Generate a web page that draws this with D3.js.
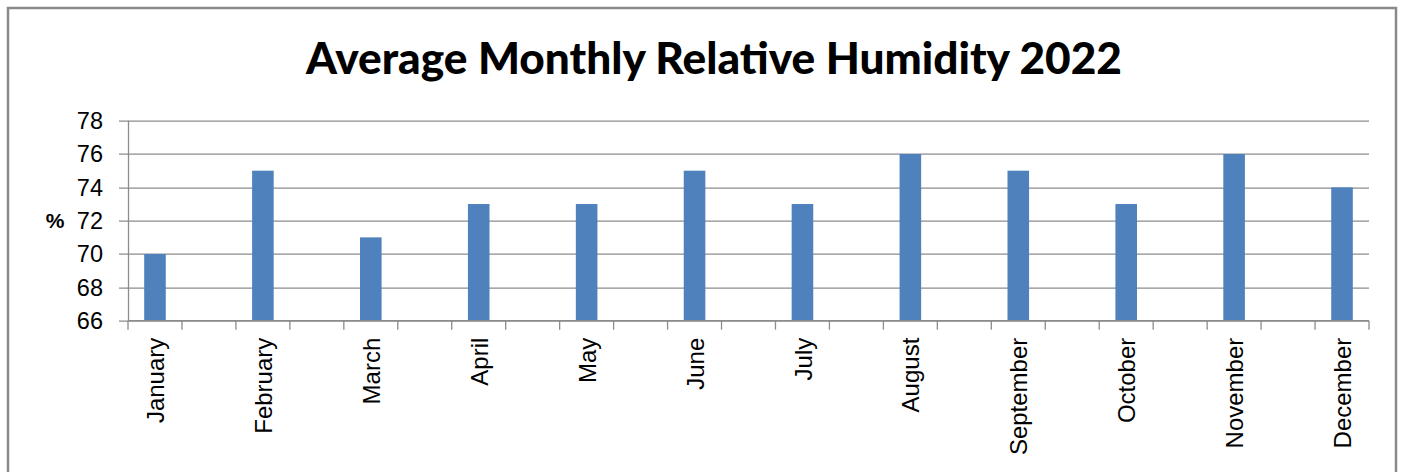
<!DOCTYPE html>
<html>
<head>
<meta charset="utf-8">
<script src="https://cdn.jsdelivr.net/npm/d3@7"></script>
<style>
  html, body { margin: 0; padding: 0; background: #fff; }
  svg { display: block; }
</style>
</head>
<body>
<div id="wrapper"></div>
<script>
const title = "Average Monthly Relative Humidity 2022";
const months = ["January", "February", "March", "April", "May", "June",
  "July", "August", "September", "October", "November", "December"];
const humidity = [70, 75, 71, 73, 73, 75, 73, 76, 75, 73, 76, 74];
const yTicks = [66, 68, 70, 72, 74, 76, 78];
const yLabel = "%";

function drawBars() {
  const dimensions = {
    width: 1401,
    height: 472,
    margin: { top: 120.7, right: 32, bottom: 151.3, left: 128 },
  };
  dimensions.boundedWidth = dimensions.width - dimensions.margin.left - dimensions.margin.right;
  dimensions.boundedHeight = dimensions.height - dimensions.margin.top - dimensions.margin.bottom;

  const wrapper = d3.select("#wrapper")
    .append("svg")
    .attr("width", dimensions.width)
    .attr("height", dimensions.height);

  // chart frame (bottom edge runs off the picture)
  wrapper.append("rect")
    .attr("x", 8)
    .attr("y", 8)
    .attr("width", 1388)
    .attr("height", 500)
    .attr("fill", "#fff")
    .attr("stroke", "#8a8a8a")
    .attr("stroke-width", 2.5);

  // Calibri isn't around: taller Lato squeezed to the original width
  wrapper.append("text")
    .attr("x", 714)
    .attr("y", 74)
    .attr("text-anchor", "middle")
    .attr("textLength", 816)
    .attr("lengthAdjust", "spacingAndGlyphs")
    .style("font-family", "Lato, 'Open Sans', sans-serif")
    .style("font-weight", "900")
    .style("font-size", "43px")
    .attr("fill", "#000")
    .text(title);

  const bounds = wrapper.append("g")
    .attr("transform", `translate(${dimensions.margin.left},${dimensions.margin.top})`);

  // Excel leaves an empty category between every month
  const slots = months.flatMap((m, i) => i < months.length - 1 ? [m, "gap" + i] : [m]);

  const xScale = d3.scaleBand()
    .domain(slots)
    .range([0, dimensions.boundedWidth]);

  const yScale = d3.scaleLinear()
    .domain([66, 78])
    .range([dimensions.boundedHeight, 0]);

  const gridColor = "#8c8c8c";

  // horizontal gridlines + left tick marks
  bounds.append("g")
    .selectAll("line")
    .data(yTicks)
    .join("line")
    .attr("x1", -9)
    .attr("x2", dimensions.boundedWidth)
    .attr("y1", d => Math.round(yScale(d)) + 0.5)
    .attr("y2", d => Math.round(yScale(d)) + 0.5)
    .attr("stroke", gridColor)
    .attr("stroke-width", 1.3);

  // y axis line
  bounds.append("line")
    .attr("x1", 0.5).attr("x2", 0.5)
    .attr("y1", 0).attr("y2", dimensions.boundedHeight)
    .attr("stroke", gridColor)
    .attr("stroke-width", 1.3);

  // x tick marks on slot boundaries
  const boundaries = slots.map(s => xScale(s)).concat([dimensions.boundedWidth]);
  bounds.append("g")
    .selectAll("line")
    .data(boundaries)
    .join("line")
    .attr("x1", d => d)
    .attr("x2", d => d)
    .attr("y1", dimensions.boundedHeight)
    .attr("y2", dimensions.boundedHeight + 9)
    .attr("stroke", gridColor)
    .attr("stroke-width", 1.3);

  // y tick labels
  bounds.append("g")
    .selectAll("text")
    .data(yTicks)
    .join("text")
    .attr("x", -25)
    .attr("y", d => yScale(d))
    .attr("dy", "0.36em")
    .attr("text-anchor", "end")
    .style("font-family", "'Liberation Sans', Arial, sans-serif")
    .style("font-size", "23.5px")
    .attr("fill", "#000")
    .text(d => d);

  wrapper.append("text")
    .attr("x", 55)
    .attr("y", dimensions.margin.top + yScale(72))
    .attr("dy", "0.35em")
    .attr("text-anchor", "middle")
    .style("font-family", "'Liberation Sans', Arial, sans-serif")
    .style("font-weight", "bold")
    .style("font-size", "21px")
    .attr("fill", "#000")
    .text(yLabel);

  // bars: 150% gap width inside each slot
  const barWidth = xScale.bandwidth() * 0.4;
  bounds.append("g")
    .selectAll("rect")
    .data(humidity)
    .join("rect")
    .attr("x", (d, i) => xScale(months[i]) + (xScale.bandwidth() - barWidth) / 2)
    .attr("y", d => yScale(d))
    .attr("width", barWidth)
    .attr("height", d => dimensions.boundedHeight - yScale(d))
    .attr("fill", "#4f81bd");

  // bottom axis line over the bars
  bounds.append("line")
    .attr("x1", 0).attr("x2", dimensions.boundedWidth)
    .attr("y1", dimensions.boundedHeight).attr("y2", dimensions.boundedHeight)
    .attr("stroke", gridColor)
    .attr("stroke-width", 1.3);

  // rotated month labels
  bounds.append("g")
    .selectAll("text")
    .data(months)
    .join("text")
    .attr("transform", d => `translate(${xScale(d) + xScale.bandwidth() / 2},${dimensions.boundedHeight + 17}) rotate(-90)`)
    .attr("dy", "0.38em")
    .attr("text-anchor", "end")
    .style("font-family", "'Liberation Sans', Arial, sans-serif")
    .style("font-size", "24px")
    .attr("fill", "#000")
    .text(d => d);
}

drawBars();
</script>
</body>
</html>
